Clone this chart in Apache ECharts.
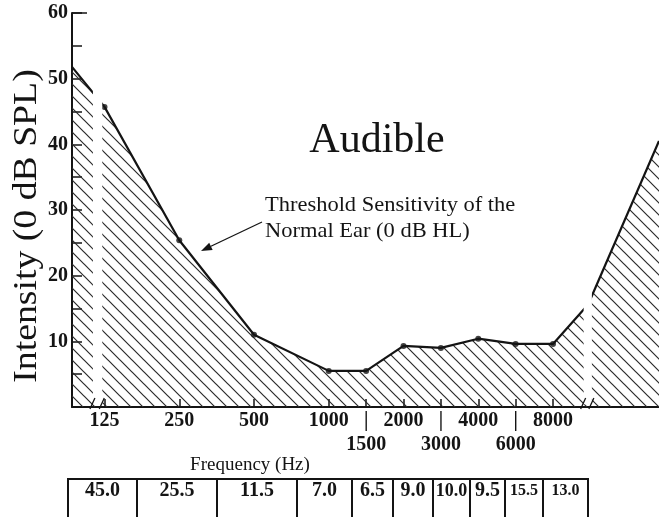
<!DOCTYPE html>
<html><head><meta charset="utf-8">
<script src="https://cdn.jsdelivr.net/npm/echarts@6/dist/echarts.min.js"></script>
<style>html,body{margin:0;padding:0;background:#fff}#c{width:659px;height:517px}</style>
</head><body><div id="c"></div>
<script>
// ---- data ----
const freqLabels = ['125','250','500','1000','1500','2000','3000','4000','6000','8000'];
const freqPos = [0, 1, 2, 3, 3.5, 4, 4.5, 5, 5.5, 6];           // audiogram column positions (half-octave steps)
const thresholdDb = [45.7, 25.4, 11.0, 5.5, 5.5, 9.3, 9.0, 10.4, 9.6, 9.6];
const leftEdgePoint = [-0.435, 51.8];                            // curve entering from the left edge
const rightExtraPoints = [[6.47, 15.6], [7.418, 40.5]];          // curve beyond 8000 Hz
const breakBands = [[-0.155, -0.03], [6.41, 6.52]];             // axis-break gaps
const yTickValues = [0, 10, 20, 30, 40, 50, 60];
const tableValues = ['45.0','25.5','11.5','7.0','6.5','9.0','10.0','9.5','15.5','13.0'];

// ---- layout / style ----
const SERIF = '"Liberation Serif", "DejaVu Serif", serif';
const INK = '#141414';
const tableEdges = [68, 137, 217, 297, 352, 393, 433, 470, 505, 543, 588];
const tableFont = [20, 20, 20, 20, 20, 20, 18, 20, 16, 16];

function hatchPattern() {
  const s = 12, c = document.createElement('canvas');
  c.width = s; c.height = s;
  const g = c.getContext('2d');
  g.strokeStyle = '#2b2b2b'; g.lineWidth = 1.2;
  g.beginPath();
  g.moveTo(-1, -1); g.lineTo(s + 1, s + 1);
  g.moveTo(s - 2, -2); g.lineTo(s + 2, 2);
  g.moveTo(-2, s - 2); g.lineTo(2, s + 2);
  g.stroke();
  return c;
}

const curve = [leftEdgePoint].concat(freqPos.map((p, i) => [p, thresholdDb[i]]), rightExtraPoints);
const dots = freqPos.map((p, i) => [p, thresholdDb[i]]);
const halfPos = freqPos.filter(p => p % 1 !== 0);

function labelAt(v) {
  for (let i = 0; i < freqPos.length; i++) {
    if (Math.abs(freqPos[i] - v) < 1e-6) return freqLabels[i];
  }
  return '';
}
// row 1: whole-octave labels, with a bar marking the half-octave columns
function row1Label(v) { return (v % 1 !== 0) ? '|' : labelAt(v); }
function row2Label(v) { return labelAt(v); }

const chart = echarts.init(document.getElementById('c'), null, {renderer: 'canvas'});

// table graphic
const tableChildren = [];
const tTop = 479, tBot = 522;
tableChildren.push({type: 'rect', shape: {x: tableEdges[0], y: tTop, width: tableEdges[tableEdges.length-1] - tableEdges[0], height: tBot - tTop},
  style: {fill: 'none', stroke: INK, lineWidth: 2}});
for (let i = 1; i < tableEdges.length - 1; i++) {
  tableChildren.push({type: 'line', shape: {x1: tableEdges[i], y1: tTop, x2: tableEdges[i], y2: tBot}, style: {stroke: INK, lineWidth: 2}});
}
tableValues.forEach((t, i) => {
  tableChildren.push({type: 'text', x: (tableEdges[i] + tableEdges[i+1]) / 2, y: 491,
    style: {text: t, font: 'bold ' + tableFont[i] + 'px ' + SERIF, fill: INK, align: 'center', verticalAlign: 'middle'}});
});

// arrow
const tail = [262, 222], tip = [201, 251];
const dx = tip[0] - tail[0], dy = tip[1] - tail[1], L = Math.hypot(dx, dy);
const ux = dx / L, uy = dy / L, hl = 11, hw = 4;
const bx = tip[0] - ux * hl, by = tip[1] - uy * hl;

const labelFont = {fontFamily: SERIF, fontWeight: 'bold', fontSize: 20, color: INK};

const option = {
  backgroundColor: '#fff',
  animation: false,
  grid: {left: 72, right: 0, top: 13, bottom: 110, containLabel: false, outerBoundsMode: 'none'},
  xAxis: [{
    type: 'value', min: -0.435, max: 7.418, position: 'bottom',
    axisLine: {show: true, onZero: false, lineStyle: {color: INK, width: 2}},
    axisTick: {show: true, inside: true, length: 8, customValues: freqPos, lineStyle: {color: INK, width: 1.5}},
    axisLabel: Object.assign({show: true, customValues: freqPos, formatter: row1Label, margin: 4,
      showMinLabel: true, showMaxLabel: true, hideOverlap: false}, labelFont),
    splitLine: {show: false}
  }, {
    type: 'value', min: -0.435, max: 7.418, position: 'bottom', offset: 0,
    axisLine: {show: false, onZero: false},
    axisTick: {show: false},
    axisLabel: Object.assign({show: true, customValues: halfPos, formatter: row2Label, margin: 28,
      showMinLabel: true, showMaxLabel: true, hideOverlap: false}, labelFont),
    splitLine: {show: false}
  }],
  yAxis: {
    type: 'value', min: 0, max: 60, interval: 10,
    axisLine: {show: true, onZero: false, lineStyle: {color: INK, width: 2}},
    axisTick: {show: true, inside: true, length: 10, customValues: yTickValues, lineStyle: {color: INK, width: 1.5}},
    minorTick: {show: true, splitNumber: 2, length: 10, lineStyle: {color: INK, width: 1.5}},
    axisLabel: Object.assign({show: true, margin: 4, formatter: v => v === 0 ? '' : String(v)}, labelFont),
    splitLine: {show: false}
  },
  series: [
    {
      type: 'line', data: curve, symbol: 'none', z: 2, xAxisIndex: 0,
      lineStyle: {color: INK, width: 2.2},
      areaStyle: {color: {image: hatchPattern(), repeat: 'repeat'}, opacity: 1}
    },
    {
      type: 'scatter', data: dots, symbol: 'circle', symbolSize: 6, z: 3, xAxisIndex: 0,
      itemStyle: {color: INK}
    },
    {
      type: 'custom', data: breakBands, z: 4, clip: false, xAxisIndex: 0,
      renderItem: function (params, api) {
        const x0 = api.value(0), x1 = api.value(1);
        const pTop = api.coord([x0, 60]);
        const pBot = api.coord([x1, 0.4]);
        const base = api.coord([x0, 0])[1];
        const children = [{type: 'rect', shape: {x: pTop[0], y: pTop[1], width: pBot[0] - pTop[0], height: pBot[1] - pTop[1]},
          style: {fill: '#fff'}}];
        [pTop[0], pBot[0]].forEach(function (x) {
          children.push({type: 'line', shape: {x1: x - 3, y1: base + 2, x2: x + 2, y2: base - 9},
            style: {stroke: INK, lineWidth: 1.3}});
        });
        return {type: 'group', children: children};
      }
    }
  ],
  graphic: [
    {type: 'text', x: 377, y: 141, style: {text: 'Audible', font: '42px ' + SERIF, fill: INK, align: 'center', verticalAlign: 'middle'}},
    {type: 'text', x: 265, y: 205, scaleX: 1.07, style: {text: 'Threshold Sensitivity of the', font: '21px ' + SERIF, fill: INK, align: 'left', verticalAlign: 'middle'}},
    {type: 'text', x: 265, y: 231, scaleX: 1.07, style: {text: 'Normal Ear (0 dB HL)', font: '21px ' + SERIF, fill: INK, align: 'left', verticalAlign: 'middle'}},
    {type: 'line', shape: {x1: tail[0], y1: tail[1], x2: bx, y2: by}, style: {stroke: INK, lineWidth: 1.3}},
    {type: 'polygon', shape: {points: [[tip[0], tip[1]], [bx - uy * hw, by + ux * hw], [bx + uy * hw, by - ux * hw]]}, style: {fill: INK}},
    {type: 'text', x: 27, y: 226, rotation: Math.PI / 2, scaleX: 1.11, style: {text: 'Intensity (0 dB SPL)', font: '34px ' + SERIF, fill: INK, align: 'center', verticalAlign: 'middle'}},
    {type: 'text', x: 250, y: 465, style: {text: 'Frequency (Hz)', font: '19px ' + SERIF, fill: INK, align: 'center', verticalAlign: 'middle'}},
    {type: 'line', shape: {x1: 72, y1: 13, x2: 87, y2: 13}, style: {stroke: INK, lineWidth: 1.5}},
    {type: 'group', children: tableChildren}
  ]
};
chart.setOption(option);
</script>
</body></html>
